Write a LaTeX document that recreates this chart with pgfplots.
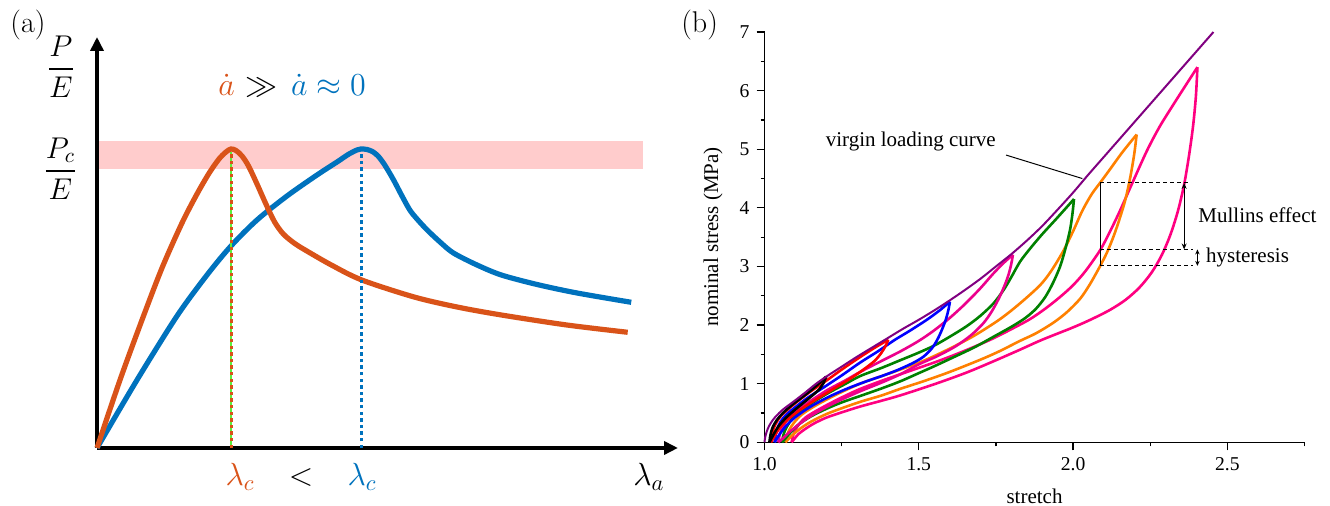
\RequirePackage{fix-cm}
\documentclass[border=0pt]{standalone}
\usepackage{fontspec}
\usepackage{amsmath}
\usepackage{pgfplots}
\pgfplotsset{compat=1.18}
\usetikzlibrary{arrows.meta}
\newfontfamily\bfont{Liberation Serif}

\definecolor{matorange}{RGB}{217,83,25}
\definecolor{matblue}{RGB}{0,114,189}
\definecolor{bandpink}{RGB}{255,204,204}
\definecolor{limegr}{RGB}{90,240,60}
\definecolor{cpurple}{RGB}{128,0,128}
\definecolor{cgreen}{RGB}{0,128,0}
\definecolor{corange}{RGB}{255,128,0}
\definecolor{cpink}{RGB}{255,0,128}

\tikzset{
  bcurve/.style={line width=1.3pt, smooth, tension=0.5},
  mathbig/.style={font=\fontsize{16}{19}\selectfont},
  btext/.style={font=\bfont\fontsize{10.5}{12}\selectfont},
}

\begin{document}
\begin{tikzpicture}
\useasboundingbox (0,0) rectangle (665pt,253pt);
\node[font=\fontsize{15}{18}\selectfont] at (14pt,240.5pt) {(a)};
\node[font=\fontsize{15}{18}\selectfont] at (349.8pt,240.5pt) {(b)};

% ---------- (a) sketch ----------
\begin{axis}[
    at={(48.5pt,29pt)}, anchor=south west,
    scale only axis, width=290.5pt, height=205.5pt,
    xmin=0, xmax=5.81, ymin=0, ymax=4.11,
    axis lines=left, enlargelimits=false,
    axis line style={line width=2.1pt, -{Triangle[length=7pt,width=6.5pt]}},
    xtick=\empty, ytick=\empty,
    clip=false,
  ]
  \addplot[draw=none, fill=bandpink] coordinates {(0.02,2.79) (5.46,2.79) (5.46,3.07) (0.02,3.07)} -- cycle;

  \addplot[matblue, line width=2.6pt, smooth, tension=0.5] coordinates {
    (0,0) (0.4,0.68) (0.8,1.32) (1.1,1.73) (1.34,2.02) (1.6,2.28) (1.9,2.52)
    (2.2,2.73) (2.4,2.86) (2.52,2.94) (2.6,2.98) (2.64,2.99) (2.7,2.985)
    (2.757,2.963) (2.81,2.92) (2.866,2.847) (2.92,2.76) (2.975,2.663)
    (3.05,2.52) (3.128,2.38) (3.2,2.29) (3.302,2.18) (3.43,2.06) (3.564,1.95)
    (3.8,1.83) (4.043,1.73) (4.4,1.635) (4.8,1.55) (5.342,1.457)};
  \addplot[matorange, line width=2.6pt, smooth, tension=0.5] coordinates {
    (0,0) (0.23,0.68) (0.45,1.28) (0.65,1.8) (0.85,2.25) (1.0,2.54)
    (1.122,2.75) (1.22,2.89) (1.29,2.96) (1.34,2.99) (1.39,2.975)
    (1.45,2.92) (1.515,2.82) (1.6,2.64) (1.689,2.44) (1.776,2.26)
    (1.863,2.14) (1.97,2.05) (2.081,1.98) (2.343,1.83) (2.648,1.68)
    (3.171,1.51) (3.6,1.41) (4.043,1.33) (4.697,1.23) (5.307,1.157)};

  \addplot[limegr, line width=0.7pt] coordinates {(1.34,0) (1.34,2.96)};
  \addplot[matorange, line width=1.5pt, dash pattern=on 1.7pt off 1.6pt] coordinates {(1.34,0) (1.34,2.96)};
  \addplot[matblue, line width=1.5pt, dash pattern=on 1.7pt off 1.6pt] coordinates {(2.64,0) (2.64,2.96)};

  \node[font=\fontsize{15}{18}\selectfont, anchor=base] at (axis cs:-0.36,3.715) {$\dfrac{P}{E}$};
  \node[font=\fontsize{15}{18}\selectfont, anchor=base] at (axis cs:-0.365,2.695) {$\dfrac{P_c}{E}$};
  \node[mathbig, anchor=base, text=matorange, inner sep=0pt] at (axis cs:1.297,3.52) {$\dot{a}$};
  \node[mathbig, anchor=base, inner sep=0pt] at (axis cs:1.645,3.52) {$\gg$};
  \node[mathbig, anchor=base, text=matblue, inner sep=0pt] at (axis cs:2.315,3.52) {$\dot{a}\approx 0$};
  \node[mathbig, anchor=base, text=matorange] at (axis cs:1.43,-0.38) {$\lambda_c$};
  \node[mathbig, anchor=base] at (axis cs:2.04,-0.38) {$<$};
  \node[mathbig, anchor=base, text=matblue] at (axis cs:2.65,-0.38) {$\lambda_c$};
  \node[mathbig, anchor=base] at (axis cs:5.52,-0.38) {$\lambda_a$};
\end{axis}

% ---------- (b) Mullins cycles ----------
\begin{axis}[
    at={(382.25pt,31.85pt)}, anchor=south west,
    scale only axis, width=270pt, height=205.15pt,
    xmin=1, xmax=2.75, ymin=0, ymax=7,
    axis lines=left, axis line style={-, line width=0.6pt},
    enlargelimits=false, clip=false,
    xtick={1,1.5,2,2.5}, minor xtick={1.25,1.75,2.25,2.75},
    ytick={0,1,...,7}, minor ytick={0.5,1.5,...,6.5},
    tick align=outside, major tick length=4pt, minor tick length=2pt,
    tick style={line width=0.6pt, black},
    xticklabel style={/pgf/number format/fixed, /pgf/number format/fixed zerofill, /pgf/number format/precision=1},
    ticklabel style={font=\bfont\fontsize{9.8}{11}\selectfont},
    /pgf/number format/assume math mode=true,
    xlabel={stretch}, ylabel={nominal stress (MPa)},
    label style={font=\bfont\fontsize{10.5}{12}\selectfont, inner sep=0pt},
    xlabel style={at={(axis description cs:0.5,-0.131)}, anchor=center},
    ylabel style={at={(axis description cs:-0.0954,0.5)}, anchor=center},
  ]
  % pink, max stretch 2.4
  \addplot[cpink, bcurve] coordinates {
    (1.088,0) (1.092,0.1) (1.1,0.21) (1.115,0.33) (1.14,0.45) (1.2,0.63) (1.26,0.79)
    (1.31,0.91) (1.38,1.05) (1.44,1.16) (1.5,1.27) (1.56,1.38) (1.62,1.5) (1.68,1.63)
    (1.74,1.77) (1.8,1.93) (1.86,2.1) (1.91,2.28) (1.958,2.48) (2.0,2.68) (2.04,2.92)
    (2.088,3.28) (2.12,3.6) (2.152,3.95) (2.19,4.4) (2.239,4.97) (2.28,5.38)
    (2.32,5.72) (2.36,6.05) (2.403,6.4)};
  \addplot[cpink, bcurve] coordinates {
    (2.403,6.4) (2.398,5.9) (2.389,5.4) (2.376,4.9) (2.36,4.4) (2.34,3.95) (2.316,3.55)
    (2.288,3.2) (2.255,2.9) (2.215,2.64) (2.17,2.43) (2.12,2.26) (2.06,2.1) (2.0,1.96)
    (1.9,1.75) (1.828,1.58) (1.75,1.4) (1.655,1.19) (1.55,0.99) (1.44,0.8) (1.38,0.71)
    (1.31,0.61) (1.25,0.51) (1.2,0.42) (1.16,0.32) (1.13,0.22) (1.11,0.14)
    (1.097,0.06) (1.088,0)};
  % orange, max stretch 2.2
  \addplot[corange, bcurve] coordinates {
    (1.068,0) (1.072,0.1) (1.08,0.21) (1.095,0.33) (1.12,0.47) (1.17,0.64) (1.239,0.83)
    (1.31,1.0) (1.38,1.13) (1.45,1.26) (1.52,1.4) (1.601,1.6) (1.68,1.82) (1.763,2.1)
    (1.828,2.37) (1.893,2.68) (1.93,2.93) (1.969,3.27) (2.0,3.6) (2.03,3.95) (2.06,4.23)
    (2.088,4.43) (2.12,4.66) (2.16,4.95) (2.206,5.25)};
  \addplot[corange, bcurve] coordinates {
    (2.206,5.25) (2.198,4.91) (2.185,4.51) (2.169,4.13) (2.15,3.8) (2.131,3.51) (2.11,3.24)
    (2.088,3.01) (2.055,2.7) (2.023,2.45) (1.98,2.22) (1.936,2.04) (1.88,1.86) (1.828,1.73)
    (1.76,1.55) (1.7,1.41) (1.6,1.2) (1.52,1.05) (1.439,0.91) (1.38,0.8) (1.31,0.69)
    (1.25,0.58) (1.2,0.48) (1.15,0.35) (1.115,0.23) (1.09,0.12) (1.075,0.04) (1.068,0)};
  % green, max stretch 2.0
  \addplot[cgreen, bcurve] coordinates {
    (1.057,0) (1.06,0.1) (1.067,0.21) (1.08,0.33) (1.1,0.46) (1.14,0.62) (1.2,0.82)
    (1.26,0.99) (1.31,1.13) (1.38,1.27) (1.44,1.4) (1.5,1.53) (1.55,1.65) (1.6,1.8)
    (1.655,1.98) (1.7,2.16) (1.742,2.37) (1.775,2.6) (1.8,2.82) (1.828,3.08) (1.86,3.3)
    (1.9,3.55) (1.947,3.82) (2.003,4.15)};
  \addplot[cgreen, bcurve] coordinates {
    (2.003,4.15) (1.998,3.9) (1.99,3.62) (1.975,3.3) (1.958,3.0) (1.935,2.72) (1.91,2.48)
    (1.88,2.28) (1.845,2.12) (1.8,1.97) (1.742,1.8) (1.68,1.62) (1.6,1.42) (1.547,1.29)
    (1.5,1.18) (1.44,1.04) (1.38,0.92) (1.31,0.79) (1.25,0.68) (1.2,0.57) (1.15,0.44)
    (1.11,0.3) (1.085,0.17) (1.067,0.06) (1.057,0)};
  % magenta, max stretch 1.8
  \addplot[magenta, bcurve] coordinates {
    (1.045,0) (1.048,0.1) (1.055,0.22) (1.068,0.34) (1.09,0.47) (1.131,0.64) (1.2,0.88)
    (1.26,1.05) (1.31,1.2) (1.38,1.39) (1.44,1.55) (1.5,1.73) (1.55,1.91) (1.6,2.12)
    (1.65,2.36) (1.7,2.63) (1.74,2.87) (1.775,3.06) (1.805,3.2)};
  \addplot[magenta, bcurve] coordinates {
    (1.805,3.2) (1.8,3.05) (1.792,2.88) (1.78,2.7) (1.76,2.46) (1.735,2.22) (1.709,2.03)
    (1.67,1.83) (1.62,1.64) (1.56,1.47) (1.5,1.33) (1.44,1.16) (1.38,1.02) (1.31,0.87)
    (1.25,0.73) (1.2,0.6) (1.15,0.45) (1.11,0.3) (1.08,0.17) (1.058,0.06) (1.045,0)};
  % blue, max stretch 1.6
  \addplot[blue, bcurve] coordinates {
    (1.033,0) (1.036,0.12) (1.042,0.24) (1.052,0.35) (1.07,0.47) (1.1,0.6) (1.14,0.76)
    (1.19,0.93) (1.25,1.14) (1.31,1.36) (1.37,1.56) (1.42,1.74) (1.47,1.9) (1.526,2.09)
    (1.57,2.26) (1.601,2.4)};
  \addplot[blue, bcurve] coordinates {
    (1.601,2.4) (1.596,2.26) (1.588,2.1) (1.575,1.92) (1.56,1.75) (1.542,1.6) (1.515,1.46)
    (1.48,1.35) (1.43,1.23) (1.38,1.13) (1.33,1.04) (1.27,0.92) (1.21,0.78) (1.15,0.61)
    (1.1,0.43) (1.07,0.28) (1.048,0.13) (1.033,0)};
  % red, max stretch 1.4
  \addplot[red, bcurve] coordinates {
    (1.021,0) (1.024,0.12) (1.03,0.24) (1.04,0.35) (1.055,0.46) (1.08,0.58) (1.11,0.71)
    (1.15,0.87) (1.2,1.05) (1.25,1.24) (1.3,1.42) (1.35,1.59) (1.401,1.75)};
  \addplot[red, bcurve] coordinates {
    (1.401,1.75) (1.392,1.64) (1.378,1.52) (1.355,1.38) (1.31,1.2) (1.27,1.06) (1.22,0.9)
    (1.17,0.74) (1.12,0.57) (1.08,0.41) (1.05,0.25) (1.033,0.11) (1.021,0)};
  % black, max stretch 1.2
  \addplot[black, bcurve] coordinates {
    (1.016,0) (1.019,0.12) (1.026,0.25) (1.04,0.38) (1.06,0.5) (1.09,0.64) (1.13,0.8)
    (1.165,0.95) (1.2,1.12)};
  \addplot[black, bcurve] coordinates {
    (1.2,1.12) (1.19,1.0) (1.18,0.92) (1.16,0.82) (1.13,0.69) (1.1,0.56) (1.07,0.42)
    (1.045,0.27) (1.028,0.12) (1.016,0)};
  % virgin loading curve
  \addplot[cpurple, line width=1pt, smooth, tension=0.5] coordinates {
    (1.0,0) (1.002,0.08) (1.007,0.18) (1.015,0.28) (1.027,0.38) (1.04,0.46) (1.06,0.56)
    (1.093,0.69) (1.13,0.84) (1.165,0.99) (1.2,1.12) (1.25,1.29) (1.3,1.46) (1.35,1.62)
    (1.4,1.78) (1.45,1.94) (1.5,2.09) (1.55,2.25) (1.6,2.42) (1.65,2.6) (1.7,2.79)
    (1.75,3.0) (1.8,3.21) (1.85,3.44) (1.9,3.69) (1.95,3.97) (2.0,4.26) (2.05,4.57)
    (2.1,4.87) (2.15,5.17) (2.2,5.47) (2.25,5.77) (2.3,6.07) (2.35,6.37) (2.4,6.67)
    (2.455,7.0)};

  % annotations
  \draw[line width=0.5pt] (axis cs:1.783,4.90) -- (axis cs:2.03,4.50);
  \node[btext, anchor=base] at (axis cs:1.474,5.04) {virgin loading curve};
  \draw[line width=0.5pt, dash pattern=on 2pt off 1.5pt] (axis cs:2.088,4.425) -- (axis cs:2.38,4.425);
  \draw[line width=0.5pt, dash pattern=on 2pt off 1.5pt] (axis cs:2.088,3.29) -- (axis cs:2.39,3.29);
  \draw[line width=0.5pt, dash pattern=on 2pt off 1.5pt] (axis cs:2.088,3.01) -- (axis cs:2.39,3.01);
  \draw[line width=0.5pt] (axis cs:2.088,4.425) -- (axis cs:2.088,3.01);
  \draw[line width=0.6pt, {Stealth[length=3pt,width=2.5pt]}-{Stealth[length=3pt,width=2.5pt]}]
    (axis cs:2.36,4.425) -- (axis cs:2.36,3.29);
  \draw[line width=0.6pt, {Stealth[length=2.5pt,width=2.2pt]}-{Stealth[length=2.5pt,width=2.2pt]}]
    (axis cs:2.403,3.29) -- (axis cs:2.403,3.01);
  \node[btext, anchor=west, inner sep=0pt] at (axis cs:2.405,3.88) {Mullins effect};
  \node[btext, anchor=west, inner sep=0pt] at (axis cs:2.43,3.145) {hysteresis};
\end{axis}
\end{tikzpicture}
\end{document}
